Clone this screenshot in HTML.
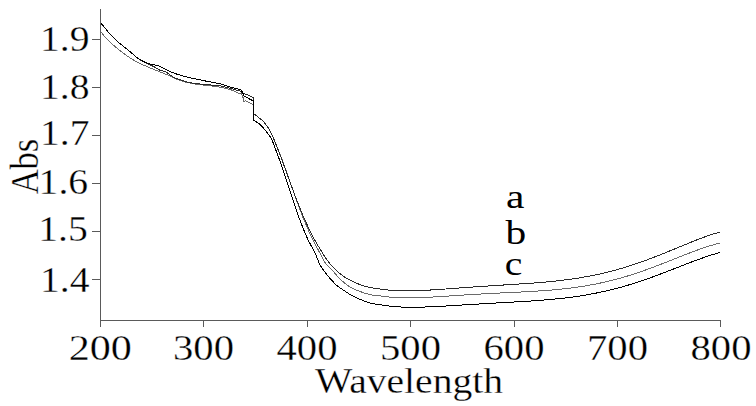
<!DOCTYPE html>
<html><head><meta charset="utf-8">
<style>
html,body{margin:0;padding:0;background:#fff;}
body{width:756px;height:406px;overflow:hidden;}
svg{display:block;}
text{font-family:"Liberation Serif",serif;fill:#000;font-size:36px;stroke:#fff;stroke-width:0.3px;}
</style></head><body>
<svg width="756" height="406" viewBox="0 0 756 406">
<g stroke="#5a5a5a" stroke-width="1" fill="none" shape-rendering="crispEdges">
<path d="M100.5 9V327 M100 320.5H721 M92 39.5H100 M92 87.5H100 M92 135.5H100 M92 183.5H100 M92 231.5H100 M92 279.5H100 M203.5 320V327 M307.5 320V327 M410.5 320V327 M514.5 320V327 M617.5 320V327 M720.5 320V327"/>
</g>
<g fill="none" stroke-width="1" stroke-linejoin="miter" shape-rendering="crispEdges">
<path stroke="#6a6a6a" d="M101.00 32.00 C101.70 32.85 103.65 35.38 105.20 37.10 C106.75 38.82 108.58 40.65 110.30 42.30 C112.02 43.95 113.77 45.53 115.50 47.00 C117.23 48.47 118.97 49.75 120.70 51.10 C122.43 52.45 124.35 53.98 125.90 55.10 C127.45 56.22 128.15 56.65 130.00 57.80 C131.85 58.95 133.78 60.37 137.00 62.00 C140.22 63.63 145.47 65.95 149.30 67.60 C153.13 69.25 157.13 70.75 160.00 71.90 C162.87 73.05 163.17 73.08 166.50 74.50 C169.83 75.92 175.58 78.87 180.00 80.40 C184.42 81.93 188.67 82.87 193.00 83.70 C197.33 84.53 201.60 84.85 206.00 85.40 C210.40 85.95 214.97 86.18 219.40 87.00 C223.83 87.82 229.50 89.30 232.60 90.30 C235.70 91.30 237.10 92.55 238.00 93.00 L241.20 93.40 L243.40 98.30 L243.40 101.30 L245.40 100.80 L252.30 104.20 L253.40 105.00 L253.40 113.90 L254.20 114.00 L262.80 120.80 C263.80 122.12 267.02 125.78 268.80 128.70 C270.58 131.62 271.92 134.75 273.50 138.30 C275.08 141.85 276.82 146.38 278.26 150.00 C279.70 153.62 280.90 156.67 282.16 160.00 C283.42 163.33 284.63 166.67 285.84 170.00 C287.04 173.33 288.21 176.67 289.39 180.00 C290.56 183.33 291.72 186.67 292.89 190.00 C294.06 193.33 295.23 196.67 296.43 200.00 C297.63 203.33 298.85 206.67 300.12 210.00 C301.39 213.33 302.67 216.67 304.03 220.00 C305.39 223.33 306.79 226.67 308.27 230.00 C309.75 233.33 310.81 235.85 312.92 240.00 C315.03 244.15 318.74 250.93 320.90 254.90 C323.06 258.87 324.08 261.33 325.90 263.80 C327.72 266.27 329.67 267.40 331.80 269.70 C333.93 272.00 336.57 275.38 338.70 277.60 C340.83 279.82 342.72 281.43 344.60 283.00 C346.48 284.57 347.43 285.58 350.00 287.00 C352.57 288.42 356.67 290.23 360.00 291.50 C363.33 292.77 366.67 293.88 370.00 294.60 C373.33 295.33 376.67 295.43 380.00 295.85 C383.33 296.27 386.67 296.81 390.00 297.12 C393.33 297.43 396.67 297.60 400.00 297.72 C403.33 297.84 406.67 297.86 410.00 297.84 C413.33 297.82 416.67 297.72 420.00 297.61 C423.33 297.50 426.67 297.33 430.00 297.16 C433.33 296.99 436.67 296.77 440.00 296.57 C443.33 296.37 446.67 296.14 450.00 295.93 C453.33 295.72 456.67 295.49 460.00 295.28 C463.33 295.07 466.67 294.85 470.00 294.65 C473.33 294.45 476.67 294.25 480.00 294.06 C483.33 293.87 486.67 293.69 490.00 293.52 C493.33 293.35 496.67 293.18 500.00 293.02 C503.33 292.86 506.67 292.70 510.00 292.54 C513.33 292.38 516.67 292.22 520.00 292.05 C523.33 291.88 526.67 291.70 530.00 291.51 C533.33 291.32 536.67 291.12 540.00 290.89 C543.33 290.66 546.67 290.42 550.00 290.15 C553.33 289.88 556.67 289.58 560.00 289.24 C563.33 288.90 566.67 288.53 570.00 288.11 C573.33 287.69 576.67 287.24 580.00 286.74 C583.33 286.24 586.67 285.69 590.00 285.09 C593.33 284.49 596.67 283.83 600.00 283.12 C603.33 282.41 606.67 281.65 610.00 280.83 C613.33 280.01 616.67 279.13 620.00 278.20 C623.33 277.27 626.67 276.28 630.00 275.24 C633.33 274.20 636.67 273.10 640.00 271.96 C643.33 270.82 646.67 269.63 650.00 268.41 C653.33 267.19 656.67 265.91 660.00 264.63 C663.33 263.35 666.67 262.03 670.00 260.71 C673.33 259.39 676.67 258.04 680.00 256.72 C683.33 255.40 686.67 254.08 690.00 252.81 C693.33 251.54 696.67 250.27 700.00 249.10 C703.33 247.93 706.67 246.79 710.00 245.78 C713.33 244.77 718.33 243.50 720.00 243.04"/>
<path stroke="#2a2a2a" d="M101.00 23.20 C101.70 24.05 103.65 26.43 105.20 28.30 C106.75 30.17 108.58 32.52 110.30 34.40 C112.02 36.28 113.77 37.97 115.50 39.60 C117.23 41.23 118.97 42.75 120.70 44.20 C122.43 45.65 124.35 47.07 125.90 48.30 C127.45 49.53 128.15 50.05 130.00 51.60 C131.85 53.15 134.83 55.95 137.00 57.60 C139.17 59.25 140.95 60.35 143.00 61.50 C145.05 62.65 147.30 63.55 149.30 64.50 C151.30 65.45 153.22 66.25 155.00 67.20 C156.78 68.15 158.17 69.40 160.00 70.20 C161.83 71.00 164.23 71.17 166.00 72.00 C167.77 72.83 169.10 74.20 170.60 75.20 C172.10 76.20 172.83 77.05 175.00 78.00 C177.17 78.95 181.10 80.12 183.60 80.90 C186.10 81.68 186.27 82.07 190.00 82.70 C193.73 83.33 201.10 84.20 206.00 84.70 C210.90 85.20 214.97 84.98 219.40 85.70 C223.83 86.42 229.17 88.12 232.60 89.00 C236.03 89.88 238.77 90.67 240.00 91.00 L242.90 93.40 L247.90 95.10 L252.80 97.30 L253.40 97.30 L253.40 113.90 L254.20 114.00 L262.80 120.80 C263.80 122.12 267.02 125.78 268.80 128.70 C270.58 131.62 271.94 134.75 273.50 138.30 C275.06 141.85 276.76 146.38 278.18 150.00 C279.60 153.62 280.75 156.67 282.00 160.00 C283.25 163.33 284.46 166.67 285.67 170.00 C286.88 173.33 288.07 176.67 289.28 180.00 C290.49 183.33 291.69 186.67 292.92 190.00 C294.16 193.33 295.40 196.67 296.69 200.00 C297.98 203.33 299.29 206.67 300.66 210.00 C302.03 213.33 303.44 216.67 304.92 220.00 C306.41 223.33 307.94 226.67 309.57 230.00 C311.20 233.33 312.12 235.53 314.68 240.00 C317.24 244.47 322.21 252.68 324.90 256.80 C327.59 260.92 328.67 262.22 330.80 264.70 C332.93 267.18 335.40 269.63 337.70 271.70 C340.00 273.77 342.55 275.68 344.60 277.10 C346.65 278.52 347.43 278.95 350.00 280.20 C352.57 281.45 356.67 283.38 360.00 284.60 C363.33 285.82 366.67 286.77 370.00 287.50 C373.33 288.23 376.67 288.53 380.00 288.97 C383.33 289.42 386.67 289.88 390.00 290.17 C393.33 290.46 396.67 290.62 400.00 290.73 C403.33 290.84 406.67 290.84 410.00 290.81 C413.33 290.78 416.67 290.67 420.00 290.54 C423.33 290.41 426.67 290.23 430.00 290.04 C433.33 289.85 436.67 289.63 440.00 289.40 C443.33 289.17 446.67 288.92 450.00 288.68 C453.33 288.44 456.67 288.19 460.00 287.95 C463.33 287.71 466.67 287.46 470.00 287.22 C473.33 286.98 476.67 286.75 480.00 286.52 C483.33 286.29 486.67 286.07 490.00 285.86 C493.33 285.65 496.67 285.44 500.00 285.23 C503.33 285.02 506.67 284.81 510.00 284.60 C513.33 284.39 516.67 284.18 520.00 283.96 C523.33 283.74 526.67 283.51 530.00 283.27 C533.33 283.03 536.67 282.78 540.00 282.50 C543.33 282.22 546.67 281.93 550.00 281.60 C553.33 281.27 556.67 280.93 560.00 280.54 C563.33 280.15 566.67 279.74 570.00 279.28 C573.33 278.82 576.67 278.33 580.00 277.78 C583.33 277.23 586.67 276.64 590.00 276.00 C593.33 275.36 596.67 274.67 600.00 273.92 C603.33 273.18 606.67 272.38 610.00 271.53 C613.33 270.68 616.67 269.76 620.00 268.80 C623.33 267.84 626.67 266.82 630.00 265.75 C633.33 264.68 636.67 263.56 640.00 262.39 C643.33 261.22 646.67 260.00 650.00 258.75 C653.33 257.50 656.67 256.19 660.00 254.87 C663.33 253.55 666.67 252.19 670.00 250.83 C673.33 249.47 676.67 248.08 680.00 246.71 C683.33 245.34 686.67 243.96 690.00 242.62 C693.33 241.28 696.67 239.94 700.00 238.68 C703.33 237.42 706.67 236.19 710.00 235.07 C713.33 233.95 718.33 232.48 720.00 231.96"/>
<path stroke="#000" d="M101.00 23.20 C101.70 24.05 103.65 26.43 105.20 28.30 C106.75 30.17 108.58 32.52 110.30 34.40 C112.02 36.28 113.77 37.97 115.50 39.60 C117.23 41.23 118.97 42.75 120.70 44.20 C122.43 45.65 124.35 47.07 125.90 48.30 C127.45 49.53 128.15 50.05 130.00 51.60 C131.85 53.15 134.83 55.98 137.00 57.60 C139.17 59.22 140.95 60.25 143.00 61.30 C145.05 62.35 147.30 63.28 149.30 63.90 C151.30 64.52 153.22 64.58 155.00 65.00 C156.78 65.42 158.17 65.67 160.00 66.40 C161.83 67.13 164.03 68.42 166.00 69.40 C167.97 70.38 169.85 71.47 171.80 72.30 C173.75 73.13 175.73 73.75 177.70 74.40 C179.67 75.05 181.05 75.53 183.60 76.20 C186.15 76.87 189.27 77.58 193.00 78.40 C196.73 79.22 201.60 80.22 206.00 81.10 C210.40 81.98 214.97 82.60 219.40 83.70 C223.83 84.80 230.40 87.03 232.60 87.70 L240.70 89.70 L242.90 92.90 L243.40 95.60 L252.30 100.50 L253.40 100.50 L253.90 113.90 L253.90 120.30 L259.90 124.30 C260.72 125.20 263.17 127.73 264.80 129.70 C266.43 131.67 268.50 134.38 269.70 136.10 C270.90 137.82 270.98 137.68 272.00 140.00 C273.02 142.32 274.56 146.67 275.82 150.00 C277.08 153.33 278.38 156.67 279.59 160.00 C280.80 163.33 281.95 166.67 283.08 170.00 C284.21 173.33 285.30 176.67 286.39 180.00 C287.48 183.33 288.54 186.67 289.62 190.00 C290.70 193.33 291.77 196.67 292.88 200.00 C293.99 203.33 295.09 206.67 296.25 210.00 C297.41 213.33 298.60 216.67 299.86 220.00 C301.12 223.33 302.42 226.67 303.80 230.00 C305.18 233.33 306.21 236.02 308.16 240.00 C310.11 243.98 313.54 249.78 315.50 253.90 C317.46 258.02 318.02 261.25 319.90 264.70 C321.78 268.15 324.17 271.30 326.80 274.60 C329.43 277.90 333.50 282.30 335.70 284.50 C337.90 286.70 337.62 286.15 340.00 287.80 C342.38 289.45 346.67 292.48 350.00 294.40 C353.33 296.32 356.67 297.87 360.00 299.30 C363.33 300.73 366.67 302.09 370.00 303.00 C373.33 303.91 376.67 304.22 380.00 304.75 C383.33 305.28 386.67 305.82 390.00 306.19 C393.33 306.56 396.67 306.79 400.00 306.97 C403.33 307.15 406.67 307.22 410.00 307.25 C413.33 307.28 416.67 307.24 420.00 307.17 C423.33 307.10 426.67 306.97 430.00 306.83 C433.33 306.69 436.67 306.53 440.00 306.35 C443.33 306.17 446.67 305.97 450.00 305.77 C453.33 305.57 456.67 305.36 460.00 305.15 C463.33 304.94 466.67 304.73 470.00 304.53 C473.33 304.33 476.67 304.12 480.00 303.93 C483.33 303.74 486.67 303.55 490.00 303.36 C493.33 303.17 496.67 302.99 500.00 302.80 C503.33 302.62 506.67 302.44 510.00 302.25 C513.33 302.06 516.67 301.88 520.00 301.68 C523.33 301.48 526.67 301.27 530.00 301.05 C533.33 300.83 536.67 300.61 540.00 300.35 C543.33 300.10 546.67 299.82 550.00 299.52 C553.33 299.22 556.67 298.90 560.00 298.54 C563.33 298.18 566.67 297.79 570.00 297.36 C573.33 296.93 576.67 296.46 580.00 295.95 C583.33 295.44 586.67 294.88 590.00 294.27 C593.33 293.66 596.67 293.01 600.00 292.31 C603.33 291.61 606.67 290.85 610.00 290.04 C613.33 289.23 616.67 288.37 620.00 287.46 C623.33 286.55 626.67 285.58 630.00 284.57 C633.33 283.56 636.67 282.48 640.00 281.37 C643.33 280.26 646.67 279.10 650.00 277.91 C653.33 276.72 656.67 275.48 660.00 274.23 C663.33 272.98 666.67 271.68 670.00 270.39 C673.33 269.10 676.67 267.78 680.00 266.48 C683.33 265.18 686.67 263.86 690.00 262.59 C693.33 261.32 696.67 260.06 700.00 258.87 C703.33 257.68 706.67 256.51 710.00 255.45 C713.33 254.39 718.33 253.02 720.00 252.53"/>
</g>
<g transform="translate(40,51) scale(1.1,1)"><text>1.9</text></g>
<g transform="translate(40,99) scale(1.1,1)"><text>1.8</text></g>
<g transform="translate(40,145.3) scale(1.1,1)"><text>1.7</text></g>
<g transform="translate(38.6,193.8) scale(1.1,1)"><text>1.6</text></g>
<g transform="translate(38.3,241.3) scale(1.1,1)"><text>1.5</text></g>
<g transform="translate(40,292) scale(1.1,1)"><text>1.4</text></g>
<g transform="translate(100.2,360) scale(1.17,1)"><text text-anchor="middle">200</text></g>
<g transform="translate(203.5,360) scale(1.13,1)"><text text-anchor="middle">300</text></g>
<g transform="translate(307,360) scale(1.13,1)"><text text-anchor="middle">400</text></g>
<g transform="translate(410.5,360) scale(1.13,1)"><text text-anchor="middle">500</text></g>
<g transform="translate(514,360) scale(1.13,1)"><text text-anchor="middle">600</text></g>
<g transform="translate(617.5,360) scale(1.13,1)"><text text-anchor="middle">700</text></g>
<g transform="translate(721,360) scale(1.13,1)"><text text-anchor="middle">800</text></g>
<g transform="translate(315,393) scale(1.1,1)"><text>Wavelength</text></g>
<g transform="translate(37.8,194.3) rotate(-90) scale(1,1.19)"><text style="font-size:34.5px">Abs</text></g>
<g transform="translate(506,207.8) scale(1.2,1)"><text style="font-size:34.5px;stroke:none">a</text></g>
<g transform="translate(505.5,244) scale(1.2,1)"><text style="font-size:34.5px;stroke:none">b</text></g>
<g transform="translate(504.8,274.8) scale(1.15,1)"><text style="font-size:34.5px;stroke:none">c</text></g>
</svg>
</body></html>
